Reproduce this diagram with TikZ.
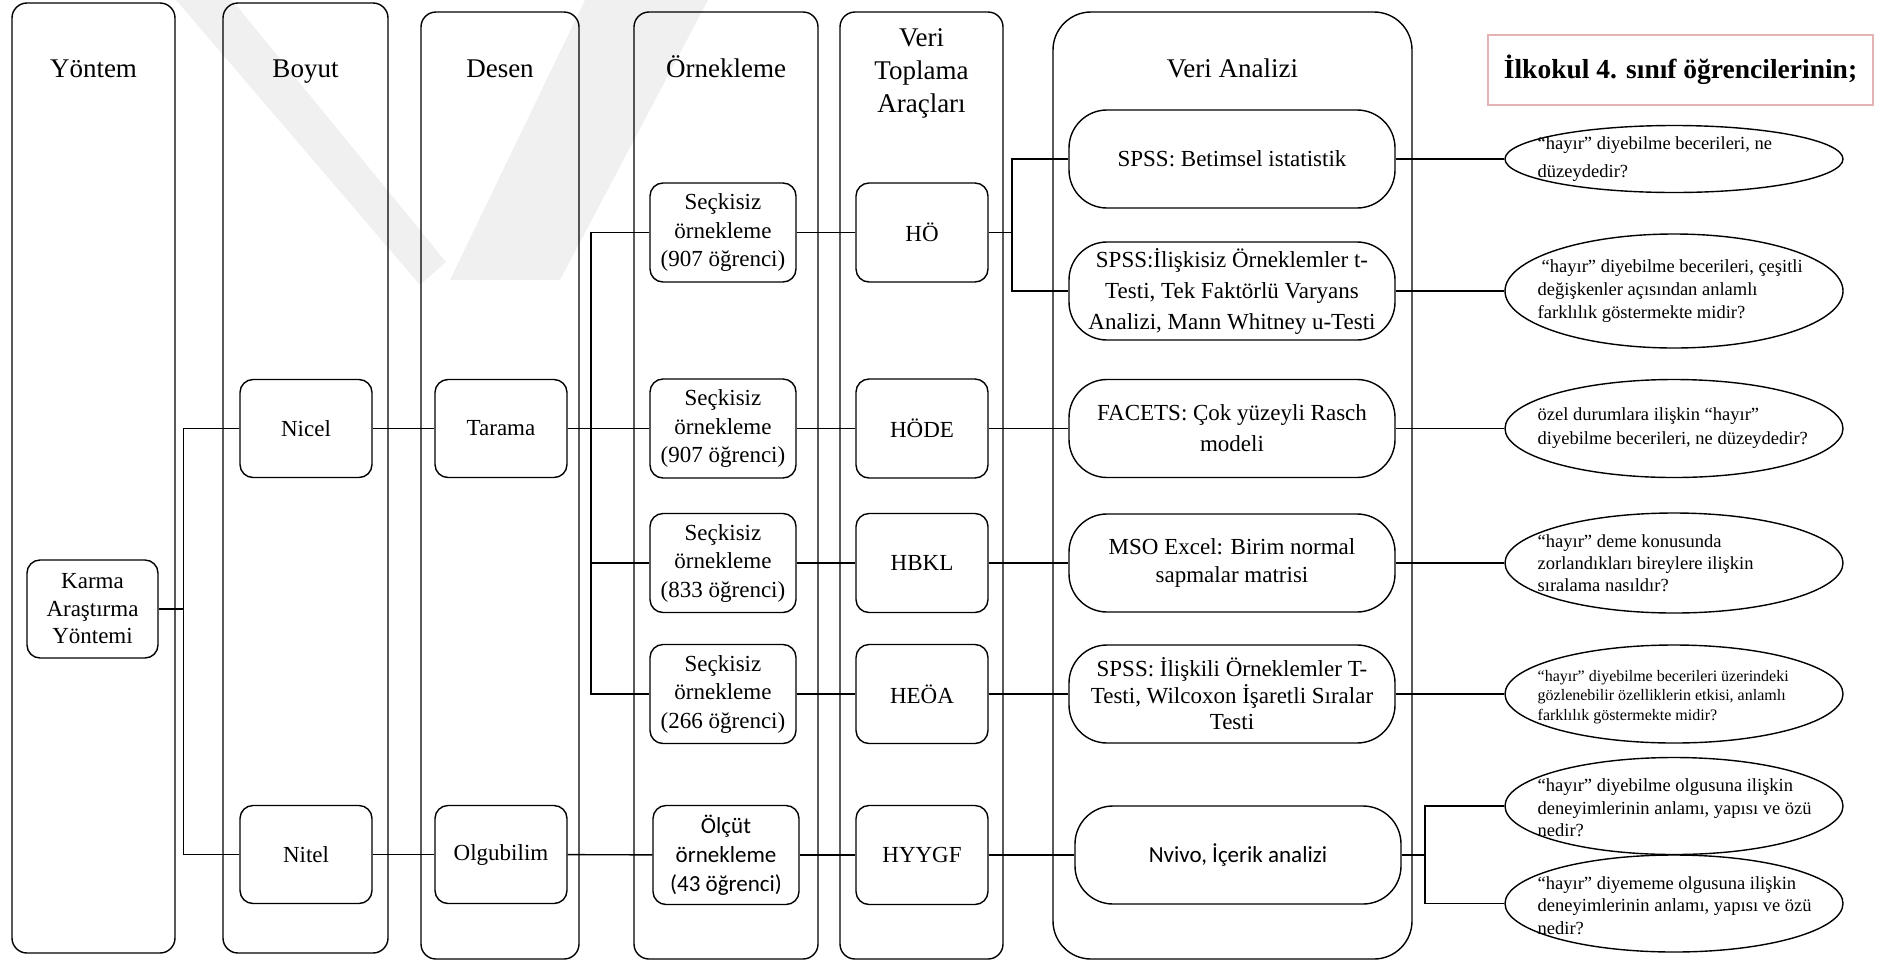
\documentclass[tikz,border=0pt]{standalone}
\usepackage{fontspec}
\setmainfont{Liberation Serif}
\newfontfamily\calibri{Carlito}
\usetikzlibrary{shapes.geometric}

\definecolor{titleframe}{RGB}{228,180,180}
\definecolor{markgray}{RGB}{240,240,240}

\begin{document}
\begin{tikzpicture}[x=1pt, y=-1pt, line width=1.4pt,
  column/.style={draw, rounded corners=15pt, inner sep=0pt},
  widecolumn/.style={column, rounded corners=38pt},
  coltitle/.style={align=center, font=\fontsize{27}{33}\selectfont},
  box/.style={draw, rounded corners=13pt, align=center, inner sep=0pt,
    font=\fontsize{23}{28.5}\selectfont},
  leftbox/.style={box, minimum width=132pt, minimum height=98pt},
  sampbox/.style={box, minimum width=146pt, minimum height=99pt},
  toolbox/.style={box, minimum width=132pt, minimum height=99pt},
  anbox/.style={box, rounded corners=38pt, minimum width=326pt, minimum height=98pt},
  question/.style={draw, ellipse, minimum width=338pt, inner sep=0pt},
  qtext/.style={anchor=west, align=left, inner sep=0pt},
  link/.style={draw, line width=1.4pt}
]
\useasboundingbox (0,0) rectangle (1885,962);

% faint background mark
\fill[markgray] (176,0) -- (232,0) -- (446,262) -- (420,285) -- cycle;
\fill[markgray] (585,0) -- (708,0) -- (560,280) -- (450,280) -- cycle;

% columns
\node[column, minimum width=163pt, minimum height=950pt] (cyon) at (93.5,478) {};
\node[column, minimum width=165pt, minimum height=950pt] (cboy) at (305.5,478) {};
\node[column, minimum width=158pt, minimum height=947pt] (cdes) at (500,485.5) {};
\node[column, minimum width=184pt, minimum height=947pt] (corn) at (726,485.5) {};
\node[column, minimum width=163pt, minimum height=947pt] (cvta) at (921.5,485.5) {};
\node[widecolumn, minimum width=359pt, minimum height=947pt] (cva) at (1232.5,485.5) {};

% column titles
\node[coltitle, anchor=base] (tyon) at (93.5,77) {Yöntem};
\node[coltitle, anchor=base] (tboy) at (305.5,77) {Boyut};
\node[coltitle, anchor=base] (tdes) at (500,77) {Desen};
\node[coltitle, anchor=base] (torn) at (726,77) {Örnekleme};
\node[coltitle] (tvta) at (921.5,73) {Veri\\Toplama\\Araçları};
\node[coltitle, anchor=base] (tva) at (1232.5,77) {Veri Analizi};

% heading on the right
\node[draw=titleframe, line width=1.6pt, minimum width=385pt, minimum height=70pt,
  font=\bfseries\fontsize{27.5}{32}\selectfont] (head) at (1680.5,70) {İlkokul 4. sınıf öğrencilerinin;};

% method, dimension, design
\node[box, minimum width=131pt, minimum height=98pt, font=\fontsize{23}{27.5}\selectfont] (karma) at (92.5,609) {Karma\\Araştırma\\Yöntemi};
\node[leftbox] (nicel) at (306,428.5) {Nicel};
\node[leftbox] (nitel) at (306,854.5) {Nitel};
\node[leftbox] (tarama) at (501,428.5) {Tarama};
\node[leftbox] (olgu) at (501,854.5) {Olgubilim};

% sampling
\node[sampbox] (s1) at (723,232.5) {Seçkisiz\\örnekleme\\(907 öğrenci)};
\node[sampbox] (s2) at (723,428.5) {Seçkisiz\\örnekleme\\(907 öğrenci)};
\node[sampbox] (s3) at (723,563) {Seçkisiz\\örnekleme\\(833 öğrenci)};
\node[sampbox] (s4) at (723,694) {Seçkisiz\\örnekleme\\(266 öğrenci)};
\node[sampbox, font=\calibri\fontsize{23}{29}\selectfont] (olcut) at (726,855) {Ölçüt\\örnekleme\\(43 öğrenci)};

% data collection tools
\node[toolbox] (ho) at (922,232.5) {HÖ};
\node[toolbox] (hode) at (922,428.5) {HÖDE};
\node[toolbox] (hbkl) at (922,563) {HBKL};
\node[toolbox] (heoa) at (922,694) {HEÖA};
\node[toolbox] (hyygf) at (922,855) {HYYGF};

% data analysis
\node[anbox] (va1) at (1232,159) {SPSS: Betimsel istatistik};
\node[anbox, font=\fontsize{23}{31}\selectfont] (va2) at (1232,291) {SPSS:İlişkisiz Örneklemler t-\\Testi, Tek Faktörlü Varyans\\Analizi, Mann Whitney u-Testi};
\node[anbox, font=\fontsize{23}{31}\selectfont] (va3) at (1232,428.5) {FACETS: Çok yüzeyli Rasch\\modeli};
\node[anbox] (va4) at (1232,563) {MSO Excel: Birim normal\\sapmalar matrisi};
\node[anbox, font=\fontsize{23}{26.5}\selectfont] (va5) at (1232,694) {SPSS: İlişkili Örneklemler T-\\Testi, Wilcoxon İşaretli Sıralar\\Testi};
\node[anbox, font=\calibri\fontsize{23}{28}\selectfont] (va6) at (1238,855) {Nvivo, İçerik analizi};

% research questions
\node[question, minimum height=67pt] (e1) at (1674,159) {};
\node[question, minimum height=114pt] (e2) at (1674,291) {};
\node[question, minimum height=98pt] (e3) at (1674,428.5) {};
\node[question, minimum height=100pt] (e4) at (1674,563) {};
\node[question, minimum height=98pt] (e5) at (1674,694) {};
\node[question, minimum height=97pt] (e6) at (1674,806) {};
\node[question, minimum height=97pt] (e7) at (1674,903.5) {};

\node[qtext, font=\fontsize{18.5}{28}\selectfont] (e1t) at ([xshift=-137pt]e1.center) {“hayır” diyebilme becerileri, ne\\düzeydedir?};
\node[qtext, font=\fontsize{18.5}{23}\selectfont] (e2t) at ([xshift=-137pt]e2.center) {\hspace*{4pt}“hayır” diyebilme becerileri, çeşitli\\değişkenler açısından anlamlı\\farklılık göstermekte midir?};
\node[qtext, font=\fontsize{18.5}{24}\selectfont] (e3t) at ([xshift=-137pt]e3.center) {özel durumlara ilişkin “hayır”\\diyebilme becerileri, ne düzeydedir?};
\node[qtext, font=\fontsize{18.5}{22}\selectfont] (e4t) at ([xshift=-137pt]e4.center) {“hayır” deme konusunda\\zorlandıkları bireylere ilişkin\\sıralama nasıldır?};
\node[qtext, font=\fontsize{16}{19.5}\selectfont] (e5t) at ([xshift=-137pt, yshift=-3pt]e5.center) {“hayır” diyebilme becerileri üzerindeki\\gözlenebilir özelliklerin etkisi, anlamlı\\farklılık göstermekte midir?};
\node[qtext, font=\fontsize{18.5}{22.5}\selectfont] (e6t) at ([xshift=-137pt, yshift=-2pt]e6.center) {“hayır” diyebilme olgusuna ilişkin\\deneyimlerinin anlamı, yapısı ve özü\\nedir?};
\node[qtext, font=\fontsize{18.5}{22.5}\selectfont] (e7t) at ([xshift=-137pt, yshift=-2pt]e7.center) {“hayır” diyememe olgusuna ilişkin\\deneyimlerinin anlamı, yapısı ve özü\\nedir?};

% connectors: method to dimensions
\draw[link] (karma.east) -- ++(25,0) coordinate (busA);
\draw[link] (nicel.west) -- (nicel.west -| busA) -- (nitel.west -| busA) -- (nitel.west);
\draw[link] (nicel) -- (tarama);
\draw[link] (nitel) -- (olgu);

% design to sampling
\draw[link] (tarama.east) -- (s2.west);
\coordinate (busB) at (591,0);
\draw[link] (s1.west) -- (s1.west -| busB) -- (s4.west -| busB) -- (s4.west);
\draw[link] (s3.west -| busB) -- (s3.west);
\draw[link] (olgu) -- (olcut);

% sampling to tools
\draw[link] (s1) -- (ho);
\draw[link] (s2) -- (hode);
\draw[link] (s3) -- (hbkl);
\draw[link] (s4) -- (heoa);
\draw[link] (olcut) -- (hyygf);

% tools to analysis
\coordinate (busC) at (1012,0);
\draw[link] (ho.east) -- (ho.east -| busC);
\draw[link] (va1.west) -- (va1.west -| busC) -- (va2.west -| busC) -- (va2.west);
\draw[link] (hode) -- (va3);
\draw[link] (hbkl) -- (va4);
\draw[link] (heoa) -- (va5);
\draw[link] (hyygf) -- (va6);

% analysis to questions
\draw[link] (va1.east) -- (e1.west);
\draw[link] (va2.east) -- (e2.west);
\draw[link] (va3.east) -- (e3.west);
\draw[link] (va4.east) -- (e4.west);
\draw[link] (va5.east) -- (e5.west);
\coordinate (busD) at (1425,0);
\draw[link] (va6.east) -- (va6.east -| busD);
\draw[link] (e6.west) -- (e6.west -| busD) -- (e7.west -| busD) -- (e7.west);
\end{tikzpicture}
\end{document}
